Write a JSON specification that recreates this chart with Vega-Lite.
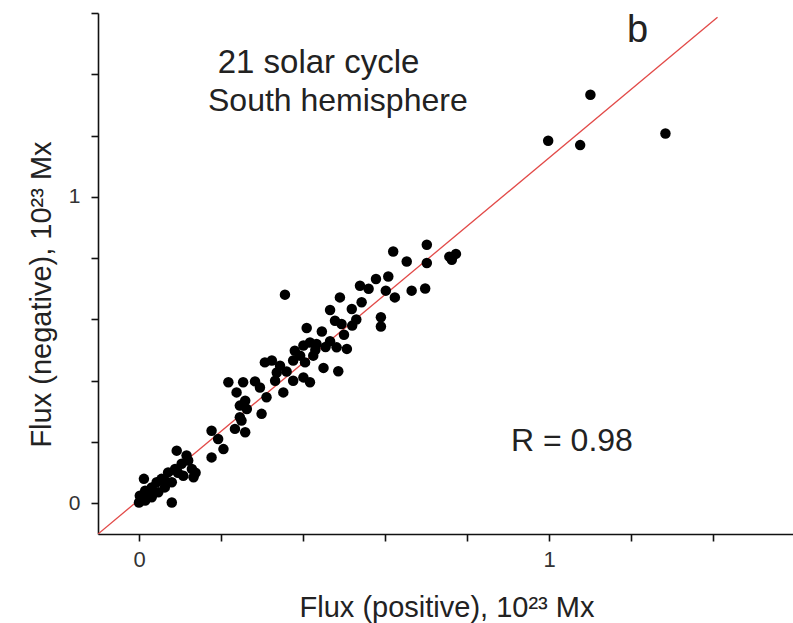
{
  "$schema": "https://vega.github.io/schema/vega-lite/v6.json",
  "width": 697,
  "height": 521,
  "autosize": {"type": "none"},
  "padding": {"left": 98, "top": 13, "right": 0, "bottom": 89},
  "background": "white",
  "config": {
    "view": {"stroke": null},
    "font": "Liberation Sans",
    "axis": {
      "grid": false,
      "domainColor": "#111",
      "domainWidth": 1.6,
      "tickColor": "#111",
      "tickWidth": 1.6,
      "tickSize": 7,
      "labelFont": "Liberation Sans",
      "labelFontSize": 22,
      "labelColor": "#333",
      "titleFont": "Liberation Sans",
      "titleFontSize": 29,
      "titleFontWeight": "normal",
      "titleColor": "#222"
    }
  },
  "datasets": {
    "flux": [
      {"pos": 0.000, "neg": 0.003}, {"pos": 0.015, "neg": 0.009}, {"pos": 0.002, "neg": 0.025},
      {"pos": 0.031, "neg": 0.020}, {"pos": 0.015, "neg": 0.041}, {"pos": 0.047, "neg": 0.036},
      {"pos": 0.031, "neg": 0.052}, {"pos": 0.063, "neg": 0.052}, {"pos": 0.012, "neg": 0.080},
      {"pos": 0.043, "neg": 0.069}, {"pos": 0.080, "neg": 0.069}, {"pos": 0.055, "neg": 0.080},
      {"pos": 0.063, "neg": 0.074}, {"pos": 0.071, "neg": 0.101}, {"pos": 0.088, "neg": 0.112},
      {"pos": 0.104, "neg": 0.129}, {"pos": 0.092, "neg": 0.172}, {"pos": 0.116, "neg": 0.156},
      {"pos": 0.129, "neg": 0.112}, {"pos": 0.108, "neg": 0.090}, {"pos": 0.133, "neg": 0.085},
      {"pos": 0.080, "neg": 0.003}, {"pos": 0.025, "neg": 0.030}, {"pos": 0.005, "neg": 0.012},
      {"pos": 0.095, "neg": 0.100}, {"pos": 0.120, "neg": 0.140}, {"pos": 0.138, "neg": 0.100},
      {"pos": 0.177, "neg": 0.237}, {"pos": 0.193, "neg": 0.210}, {"pos": 0.206, "neg": 0.177},
      {"pos": 0.177, "neg": 0.150}, {"pos": 0.234, "neg": 0.243}, {"pos": 0.259, "neg": 0.232},
      {"pos": 0.218, "neg": 0.395}, {"pos": 0.254, "neg": 0.395}, {"pos": 0.283, "neg": 0.398},
      {"pos": 0.238, "neg": 0.362}, {"pos": 0.295, "neg": 0.378}, {"pos": 0.246, "neg": 0.319},
      {"pos": 0.259, "neg": 0.335}, {"pos": 0.263, "neg": 0.308}, {"pos": 0.246, "neg": 0.281},
      {"pos": 0.250, "neg": 0.270}, {"pos": 0.299, "neg": 0.292}, {"pos": 0.311, "neg": 0.346},
      {"pos": 0.307, "neg": 0.460}, {"pos": 0.332, "neg": 0.400}, {"pos": 0.352, "neg": 0.362},
      {"pos": 0.336, "neg": 0.427}, {"pos": 0.344, "neg": 0.449}, {"pos": 0.324, "neg": 0.466},
      {"pos": 0.356, "neg": 0.681}, {"pos": 0.376, "neg": 0.400}, {"pos": 0.401, "neg": 0.411},
      {"pos": 0.417, "neg": 0.395}, {"pos": 0.376, "neg": 0.466}, {"pos": 0.405, "neg": 0.460},
      {"pos": 0.393, "neg": 0.482}, {"pos": 0.380, "neg": 0.498}, {"pos": 0.425, "neg": 0.482},
      {"pos": 0.401, "neg": 0.515}, {"pos": 0.417, "neg": 0.525}, {"pos": 0.433, "neg": 0.520},
      {"pos": 0.466, "neg": 0.529}, {"pos": 0.482, "neg": 0.509}, {"pos": 0.507, "neg": 0.504},
      {"pos": 0.450, "neg": 0.442}, {"pos": 0.486, "neg": 0.431}, {"pos": 0.409, "neg": 0.572},
      {"pos": 0.446, "neg": 0.561}, {"pos": 0.478, "neg": 0.596}, {"pos": 0.494, "neg": 0.585},
      {"pos": 0.466, "neg": 0.631}, {"pos": 0.519, "neg": 0.634}, {"pos": 0.490, "neg": 0.672},
      {"pos": 0.539, "neg": 0.710}, {"pos": 0.543, "neg": 0.656}, {"pos": 0.578, "neg": 0.732},
      {"pos": 0.608, "neg": 0.740}, {"pos": 0.602, "neg": 0.694}, {"pos": 0.624, "neg": 0.672},
      {"pos": 0.665, "neg": 0.694}, {"pos": 0.698, "neg": 0.701}, {"pos": 0.590, "neg": 0.607},
      {"pos": 0.590, "neg": 0.577}, {"pos": 0.620, "neg": 0.822}, {"pos": 0.702, "neg": 0.844},
      {"pos": 0.653, "neg": 0.789}, {"pos": 0.702, "neg": 0.784}, {"pos": 0.757, "neg": 0.805},
      {"pos": 0.773, "neg": 0.814}, {"pos": 0.763, "neg": 0.795}, {"pos": 0.360, "neg": 0.430},
      {"pos": 0.430, "neg": 0.500}, {"pos": 0.455, "neg": 0.510}, {"pos": 0.500, "neg": 0.550},
      {"pos": 0.520, "neg": 0.580}, {"pos": 0.530, "neg": 0.600}, {"pos": 0.560, "neg": 0.700},
      {"pos": 0.998, "neg": 1.183}, {"pos": 1.101, "neg": 1.333}, {"pos": 1.076, "neg": 1.169},
      {"pos": 1.284, "neg": 1.207}
    ],
    "fit": [
      {"pos": -0.1, "neg": -0.1},
      {"pos": 1.411, "neg": 1.586}
    ],
    "notes": [
      {"label": "21 solar cycle"}
    ]
  },
  "layer": [
    {
      "data": {"name": "fit"},
      "mark": {"type": "line", "color": "#e24a48", "strokeWidth": 1.3, "clip": true},
      "encoding": {
        "x": {
          "field": "pos",
          "type": "quantitative",
          "scale": {"domain": [-0.1, 1.6], "nice": false, "zero": false},
          "axis": {
            "title": "Flux (positive), 10²³ Mx",
            "values": [0, 0.2, 0.4, 0.6, 0.8, 1, 1.2, 1.4],
            "labelExpr": "datum.value === 0 ? '0' : (datum.value === 1 ? '1' : '')",
            "labelPadding": 8,
            "titleBaseline": "alphabetic",
            "titleY": 82
          }
        },
        "y": {
          "field": "neg",
          "type": "quantitative",
          "scale": {"domain": [-0.1, 1.6], "nice": false, "zero": false},
          "axis": {
            "title": "Flux (negative), 10²³ Mx",
            "values": [0, 0.2, 0.4, 0.6, 0.8, 1, 1.2, 1.4, 1.6],
            "labelExpr": "datum.value === 0 ? '0' : (datum.value === 1 ? '1' : '')",
            "labelPadding": 11,
            "labelFontSize": 21,
            "titleBaseline": "alphabetic",
            "titleAngle": -90,
            "titleX": -48,
            "titleY": 281
          }
        }
      }
    },
    {
      "data": {"name": "flux"},
      "mark": {"type": "circle", "color": "#000", "opacity": 1, "size": 110},
      "encoding": {
        "x": {"field": "pos", "type": "quantitative"},
        "y": {"field": "neg", "type": "quantitative"}
      }
    },
    {
      "data": {"name": "notes"},
      "mark": {"type": "text", "text": "21 solar cycle", "fontSize": 33, "color": "#222", "align": "center", "baseline": "alphabetic"},
      "encoding": {"x": {"datum": 0.438, "type": "quantitative"}, "y": {"datum": 1.405, "type": "quantitative"}}
    },
    {
      "data": {"name": "notes"},
      "mark": {"type": "text", "text": "South hemisphere", "fontSize": 32, "color": "#222", "align": "center", "baseline": "alphabetic"},
      "encoding": {"x": {"datum": 0.485, "type": "quantitative"}, "y": {"datum": 1.281, "type": "quantitative"}}
    },
    {
      "data": {"name": "notes"},
      "mark": {"type": "text", "text": "b", "fontSize": 38, "color": "#222", "align": "center", "baseline": "alphabetic"},
      "encoding": {"x": {"datum": 1.216, "type": "quantitative"}, "y": {"datum": 1.504, "type": "quantitative"}}
    },
    {
      "data": {"name": "notes"},
      "mark": {"type": "text", "text": "R = 0.98", "fontSize": 32, "color": "#222", "align": "center", "baseline": "alphabetic"},
      "encoding": {"x": {"datum": 1.056, "type": "quantitative"}, "y": {"datum": 0.172, "type": "quantitative"}}
    }
  ]
}
